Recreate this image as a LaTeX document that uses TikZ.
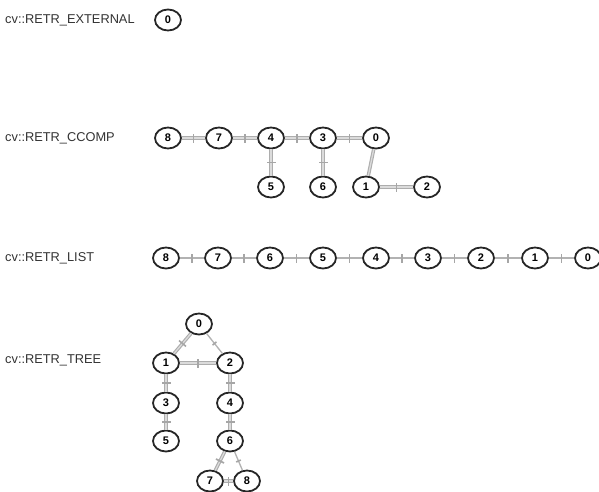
\documentclass[tikz,border=0pt]{standalone}
\usepackage{fontspec}
\setmainfont{Liberation Sans}
\usetikzlibrary{shapes.geometric}
\tikzset{
  vtx/.style={ellipse, draw=black!85, line width=1.8pt, fill=white, minimum width=26pt, minimum height=21pt, inner sep=0pt, font=\bfseries\fontsize{11}{11}\selectfont},
  lbl/.style={anchor=west, inner sep=0pt, font=\fontsize{12.8}{13}\selectfont, text=black!80},
  edg/.style={draw=black!32, line width=1.1pt, double=black!14, double distance=1.3pt},
  sedg/.style={draw=black!30, line width=2pt},
  tk/.style={sloped, fill=black!35, inner sep=0pt, minimum width=1.6pt, minimum height=9pt}
}
\begin{document}
\begin{tikzpicture}[x=1pt,y=-1pt]
\useasboundingbox[fill=white] (0,0) rectangle (599,492);
% labels
\node[lbl] (lext) at (5,20) {cv::RETR\_EXTERNAL};
\node[lbl] (lcc) at (5,138) {cv::RETR\_CCOMP};
\node[lbl] (lli) at (5,258) {cv::RETR\_LIST};
\node[lbl] (ltr) at (5,360) {cv::RETR\_TREE};
% EXTERNAL
\node[vtx] (e0) at (168,20) {0};
% CCOMP
\node[vtx] (c8) at (168,138) {8};
\node[vtx] (c7) at (219,138) {7};
\node[vtx] (c4) at (271,138) {4};
\node[vtx] (c3) at (323,138) {3};
\node[vtx] (c0) at (376,138) {0};
\node[vtx] (c5) at (271,187) {5};
\node[vtx] (c6) at (323,187) {6};
\node[vtx] (c1) at (366,187) {1};
\node[vtx] (c2) at (427,187) {2};
\foreach \a/\b in {c8/c7,c7/c4,c4/c3,c3/c0,c4/c5,c3/c6,c1/c2}
  \path[edg] (\a) -- node[tk]{} (\b);
\path[edg] (c0) -- (c1);
% LIST
\foreach \n/\x in {8/166,7/218,6/270,5/323,4/376,3/428,2/481,1/535,0/588}
  \node[vtx] (l\n) at (\x,258) {\n};
\foreach \a/\b in {8/7,7/6,6/5,5/4,4/3,3/2,2/1,1/0}
  \path[sedg] (l\a) -- node[tk]{} (l\b);
% TREE
\node[vtx] (t0) at (199,324) {0};
\node[vtx] (t1) at (166,363) {1};
\node[vtx] (t2) at (230,363) {2};
\node[vtx] (t3) at (166,403) {3};
\node[vtx] (t4) at (230,403) {4};
\node[vtx] (t5) at (166,441) {5};
\node[vtx] (t6) at (230,441) {6};
\node[vtx] (t7) at (210,481) {7};
\node[vtx] (t8) at (247,481) {8};
\foreach \a/\b in {t0/t1,t1/t2,t1/t3,t3/t5,t2/t4,t4/t6,t6/t7,t7/t8}
  \path[edg] (\a) -- node[tk]{} (\b);
\path[sedg, line width=1.3pt] (t0) -- node[tk, minimum height=5pt]{} (t2);
\path[sedg, line width=1.3pt] (t6) -- node[tk, minimum height=5pt]{} (t8);
\end{tikzpicture}
\end{document}
